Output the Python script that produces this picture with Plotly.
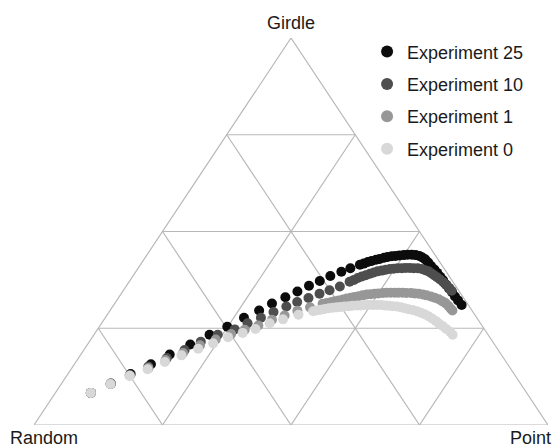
import plotly.graph_objects as go

# Ternary fractions: Point (P) and Girdle (G); Random = 1 - P - G
exp25_point = [.069, .096, .122, .149, .173, .200, .225, .249, .270, .290, .306, .324, .340, .355, .370, .384,
               .400, .413, .427, .433, .439, .445, .452, .458, .465, .471, .478, .485, .492, .500, .507, .515,
               .523, .531, .539, .547, .557, .567, .578, .588, .599, .609, .620, .631, .642, .653, .664, .677]
exp25_girdle = [.083, .107, .132, .157, .182, .208, .233, .254, .277, .296, .314, .330, .345, .360, .372, .385,
                .396, .405, .414, .417, .421, .424, .427, .429, .432, .434, .436, .437, .438, .439, .440, .440,
                .439, .437, .433, .428, .420, .411, .402, .393, .383, .374, .363, .353, .343, .332, .322, .310]

exp10_point = [.069, .096, .122, .147, .172, .196, .217, .241, .267, .284, .303, .320, .338, .353, .370, .386,
               .401, .416, .429, .435, .440, .446, .452, .458, .464, .470, .477, .484, .491, .498, .505, .513,
               .520, .528, .536, .544, .553, .561, .569, .577, .585, .593, .602, .612, .621, .631, .639]
exp10_girdle = [.083, .106, .129, .151, .173, .194, .215, .233, .247, .263, .277, .292, .306, .318, .328, .339,
                .348, .358, .370, .375, .380, .384, .387, .391, .394, .397, .399, .401, .403, .404, .405, .405,
                .406, .406, .405, .405, .403, .400, .397, .392, .387, .382, .376, .369, .362, .354, .347]

exp1_point = [.069, .096, .122, .149, .172, .197, .220, .243, .266, .287, .308, .327, .346, .365, .385, .405,
              .412, .419, .425, .432, .439, .445, .452, .458, .465, .472, .479, .486, .493, .500, .508, .515,
              .523, .531, .538, .546, .554, .563, .571, .579, .588, .596, .606, .615, .625, .634, .643, .652,
              .660, .666]
exp1_girdle = [.083, .106, .128, .147, .168, .186, .206, .221, .235, .246, .257, .272, .283, .295, .304, .313,
               .315, .317, .320, .322, .324, .327, .329, .331, .333, .335, .337, .338, .339, .340, .341, .342,
               .342, .342, .342, .342, .341, .341, .340, .339, .337, .335, .332, .329, .325, .320, .315, .308,
               .301, .296]

exp0_point = [.069, .096, .123, .149, .173, .197, .221, .243, .264, .287, .307, .327, .348, .372, .396,
              .402, .409, .416, .423, .430, .437, .444, .451, .459, .466, .474, .481, .489, .496, .504, .512,
              .520, .528, .536, .544, .553, .562, .570, .579, .588, .598, .608, .617, .627, .637, .647, .657,
              .668, .678, .689, .698]
exp0_girdle = [.083, .106, .127, .144, .163, .180, .197, .211, .227, .238, .248, .263, .273, .285, .294,
               .296, .298, .300, .302, .303, .304, .305, .306, .307, .308, .309, .309, .310, .310, .310, .310,
               .310, .309, .308, .307, .306, .304, .302, .299, .297, .294, .290, .286, .281, .275, .269, .262,
               .255, .248, .241, .233]

series_names = ["Experiment 25", "Experiment 10", "Experiment 1", "Experiment 0"]
series_colors = ["#0c0c0c", "#4e4e4e", "#979797", "#d8d8d8"]
grid_ticks = [0.25, 0.5, 0.75]
corner_labels = {"top": "Girdle", "left": "Random", "right": "Point"}


def to_xy(point, girdle):
    """Barycentric (Point, Girdle, Random) -> triangle plane coordinates."""
    xs = [p + g / 2 for p, g in zip(point, girdle)]
    ys = list(girdle)
    return xs, ys


fig = go.Figure()

# Triangle outline and grid lines
grid_color = "#b8b8b8"
lines = [([0, 1, 0.5, 0], [0, 0, 1, 0])]
for t in grid_ticks:
    lines.append(([t / 2, 1 - t / 2], [t, t]))                 # Girdle = t
    lines.append(([t, t + (1 - t) / 2], [0, 1 - t]))           # Point = t
    lines.append(([1 - t, (1 - t) / 2], [0, 1 - t]))           # Random = t
for lx, ly in lines:
    fig.add_trace(go.Scatter(x=lx, y=ly, mode="lines", line=dict(color=grid_color, width=1.2),
                             showlegend=False, hoverinfo="skip"))

data = [(exp25_point, exp25_girdle), (exp10_point, exp10_girdle),
        (exp1_point, exp1_girdle), (exp0_point, exp0_girdle)]
for name, color, (pp, gg) in zip(series_names, series_colors, data):
    xs, ys = to_xy(pp, gg)
    fig.add_trace(go.Scatter(
        x=xs, y=ys, mode="markers", name=name, legendgroup=name,
        marker=dict(color=color, size=10, line=dict(width=0)),
        customdata=[[p, g, 1 - p - g] for p, g in zip(pp, gg)],
        hovertemplate="Point %{customdata[0]:.3f}<br>Girdle %{customdata[1]:.3f}<br>Random %{customdata[2]:.3f}",
    ))

font = dict(family="Liberation Sans, Arial, sans-serif", size=18, color="#1a1a1a")
fig.add_annotation(text=corner_labels["top"], x=0.5, y=1.0, xref="x", yref="y",
                   yshift=15, showarrow=False, font=font)
fig.add_annotation(text=corner_labels["left"], x=0, y=0, xref="x", yref="y",
                   xanchor="left", yshift=-13, xshift=-26, showarrow=False, font=font)
fig.add_annotation(text=corner_labels["right"], x=1, y=0, xref="x", yref="y",
                   xanchor="right", yshift=-13, xshift=5, showarrow=False, font=font)

fig.update_layout(
    width=554, height=447,
    margin=dict(l=34, r=6, t=38, b=22),
    paper_bgcolor="white", plot_bgcolor="white",
    font=font,
    xaxis=dict(range=[0, 1], visible=False, fixedrange=True),
    yaxis=dict(range=[0, 1], visible=False, fixedrange=True),
    legend=dict(x=0.648, y=1.012, xanchor="left", yanchor="top", xref="paper", yref="paper",
                traceorder="grouped", tracegroupgap=6, bgcolor="rgba(0,0,0,0)",
                itemsizing="constant", font=font),
    showlegend=True,
)

# Remove the browser's default body margin so the 554x447 figure fills the window exactly.
fig.write_html("out.html", config={"displayModeBar": False},
               post_script="document.body.style.margin='0';document.body.style.overflow='hidden';")
